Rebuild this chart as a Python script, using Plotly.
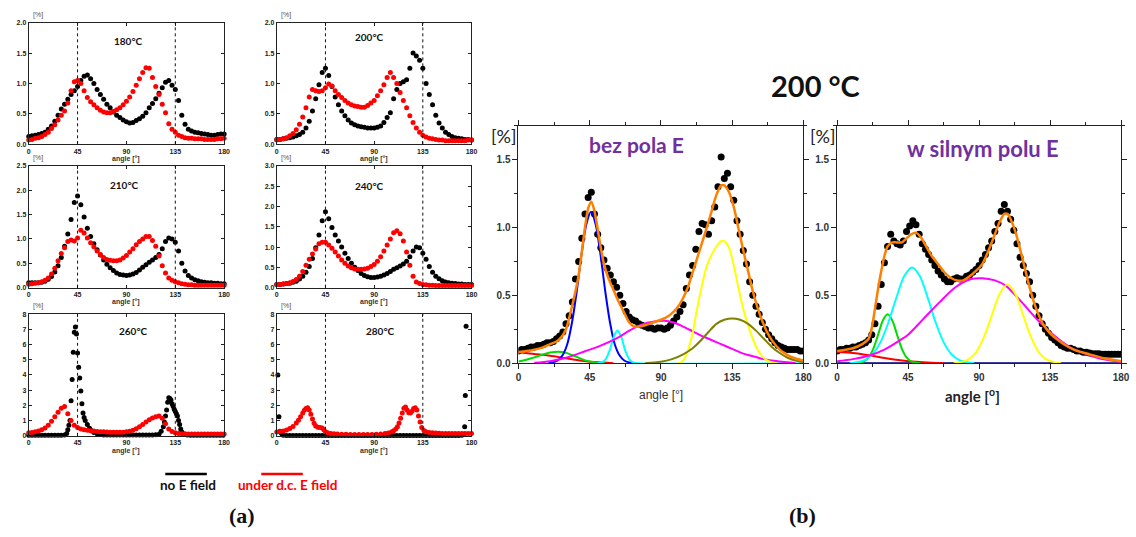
import plotly.graph_objects as go

W, H = 1136, 537

# ---------------------------------------------------------------
# (a) angular distributions, no field (black) vs d.c. field (red)
# ---------------------------------------------------------------
ANG3 = list(range(0, 181, 3))

T180_NO = [0.13, 0.14, 0.15, 0.16, 0.18, 0.20, 0.25, 0.30, 0.38, 0.48,
           0.58, 0.66, 0.74, 0.82, 0.88, 0.95, 1.05, 1.12, 1.14, 1.08,
           1.00, 0.90, 0.82, 0.74, 0.66, 0.60, 0.53, 0.48, 0.44, 0.40,
           0.37, 0.35, 0.36, 0.39, 0.42, 0.46, 0.52, 0.60, 0.67, 0.75,
           0.84, 0.93, 1.02, 1.05, 0.97, 0.90, 0.72, 0.48, 0.33, 0.25,
           0.22, 0.20, 0.19, 0.18, 0.17, 0.16, 0.15, 0.15, 0.16, 0.17,
           0.17]
T180_E = [0.07, 0.08, 0.10, 0.11, 0.13, 0.16, 0.20, 0.26, 0.32, 0.40,
          0.48, 0.55, 0.68, 0.88, 1.03, 1.05, 1.00, 0.88, 0.77, 0.70,
          0.65, 0.60, 0.56, 0.53, 0.52, 0.52, 0.54, 0.57, 0.60, 0.65,
          0.71, 0.78, 0.87, 0.97, 1.08, 1.18, 1.26, 1.25, 1.10, 0.95,
          0.82, 0.66, 0.52, 0.34, 0.25, 0.20, 0.15, 0.13, 0.11, 0.10,
          0.10, 0.09, 0.09, 0.09, 0.08, 0.08, 0.08, 0.08, 0.09, 0.09,
          0.10]

T200_NO = [0.08, 0.08, 0.09, 0.10, 0.11, 0.12, 0.14, 0.16, 0.20, 0.27,
           0.38, 0.55, 0.75, 0.98, 1.18, 1.25, 1.13, 0.95, 0.78, 0.65,
           0.55, 0.47, 0.40, 0.35, 0.32, 0.30, 0.29, 0.28, 0.27, 0.27,
           0.27, 0.28, 0.30, 0.36, 0.44, 0.52, 0.75, 0.90, 1.00, 1.03,
           1.06, 1.25, 1.50, 1.45, 1.38, 1.25, 1.00, 0.82, 0.65, 0.48,
           0.35, 0.27, 0.20, 0.16, 0.13, 0.11, 0.10, 0.09, 0.08, 0.08,
           0.07]
T200_E = [0.07, 0.08, 0.09, 0.11, 0.14, 0.18, 0.24, 0.33, 0.45, 0.60,
          0.78, 0.90, 0.88, 0.87, 0.88, 0.93, 0.99, 0.96, 0.88, 0.82,
          0.77, 0.72, 0.68, 0.65, 0.63, 0.62, 0.61, 0.61, 0.64, 0.68,
          0.72, 0.80, 0.88, 0.98, 1.10, 1.18, 1.10, 1.00, 0.85, 0.72,
          0.60, 0.47, 0.36, 0.27, 0.20, 0.15, 0.12, 0.10, 0.09, 0.08,
          0.07, 0.07, 0.06, 0.06, 0.06, 0.06, 0.06, 0.06, 0.06, 0.07,
          0.07]

T210_NO = [0.10, 0.10, 0.10, 0.10, 0.11, 0.13, 0.17, 0.23, 0.32, 0.45,
           0.62, 0.85, 1.10, 1.40, 1.75, 1.88, 1.70, 1.45, 1.22, 1.05,
           0.90, 0.78, 0.67, 0.57, 0.48, 0.41, 0.35, 0.30, 0.27, 0.26,
           0.25, 0.26, 0.28, 0.31, 0.36, 0.42, 0.47, 0.52, 0.57, 0.62,
           0.68, 0.80, 0.95, 1.02, 1.00, 0.93, 0.75, 0.50, 0.34, 0.25,
           0.20, 0.16, 0.14, 0.12, 0.11, 0.10, 0.10, 0.09, 0.09, 0.08,
           0.08]
T210_E = [0.07, 0.08, 0.09, 0.10, 0.12, 0.15, 0.20, 0.28, 0.40, 0.55,
          0.70, 0.82, 0.95, 0.98, 0.96, 1.02, 1.18, 1.12, 1.02, 0.92,
          0.84, 0.75, 0.68, 0.62, 0.58, 0.56, 0.55, 0.55, 0.57, 0.61,
          0.66, 0.73, 0.80, 0.88, 0.95, 1.00, 1.05, 1.05, 0.97, 0.85,
          0.65, 0.45, 0.30, 0.20, 0.15, 0.12, 0.10, 0.08, 0.07, 0.06,
          0.06, 0.05, 0.05, 0.05, 0.05, 0.05, 0.05, 0.05, 0.05, 0.05,
          0.05]

T240_NO = [0.08, 0.08, 0.09, 0.10, 0.11, 0.13, 0.16, 0.21, 0.28, 0.38,
           0.52, 0.72, 0.98, 1.30, 1.65, 1.87, 1.70, 1.48, 1.30, 1.15,
           1.00, 0.85, 0.72, 0.60, 0.50, 0.42, 0.35, 0.30, 0.27, 0.25,
           0.25, 0.26, 0.28, 0.31, 0.35, 0.40, 0.45, 0.49, 0.53, 0.58,
           0.65, 0.76, 0.90, 1.00, 0.98, 0.85, 0.70, 0.52, 0.38, 0.28,
           0.22, 0.17, 0.14, 0.12, 0.11, 0.10, 0.09, 0.09, 0.08, 0.08,
           0.08]
T240_E = [0.08, 0.08, 0.09, 0.10, 0.12, 0.15, 0.20, 0.28, 0.40, 0.55,
          0.70, 0.83, 0.95, 1.08, 1.12, 1.12, 1.05, 0.97, 0.88, 0.78,
          0.68, 0.60, 0.53, 0.49, 0.46, 0.45, 0.45, 0.46, 0.48, 0.52,
          0.57, 0.65, 0.76, 0.90, 1.05, 1.20, 1.35, 1.40, 1.33, 1.15,
          0.88, 0.55, 0.28, 0.14, 0.10, 0.08, 0.07, 0.06, 0.06, 0.05,
          0.05, 0.05, 0.05, 0.05, 0.05, 0.05, 0.05, 0.05, 0.05, 0.05,
          0.05]

T260_NO = [(0, 0.03), (3, 0.03), (6, 0.03), (9, 0.03), (12, 0.03), (15, 0.03),
           (18, 0.03), (21, 0.03), (24, 0.03), (27, 0.03), (30, 0.04), (33, 0.06),
           (35, 0.15), (36, 0.40), (37, 0.70), (38, 1.00), (39, 2.30), (40, 3.70),
           (41, 5.50), (42, 6.80), (43, 7.15), (44, 6.70), (45, 5.45), (46, 4.50),
           (47, 3.80), (48, 2.95), (49, 2.10), (50, 1.50), (51, 1.20), (52, 1.00),
           (54, 0.75), (56, 0.50), (58, 0.33), (60, 0.22), (63, 0.13), (66, 0.08),
           (69, 0.06), (72, 0.05), (75, 0.05), (78, 0.05), (81, 0.05), (84, 0.05),
           (87, 0.05), (90, 0.05), (93, 0.05), (96, 0.05), (99, 0.05), (102, 0.05),
           (105, 0.05), (108, 0.05), (111, 0.05), (114, 0.06), (117, 0.07),
           (120, 0.10), (122, 0.30), (124, 0.60), (125, 0.90), (126, 1.30),
           (127, 1.70), (128, 2.20), (129, 2.50), (130, 2.45), (131, 2.35),
           (132, 2.10), (133, 1.95), (134, 1.75), (135, 1.60), (136, 1.45),
           (137, 1.30), (138, 1.00), (139, 0.75), (140, 0.45), (141, 0.25),
           (143, 0.10), (146, 0.05), (149, 0.04), (152, 0.04), (155, 0.04),
           (158, 0.04), (161, 0.04), (164, 0.04), (167, 0.04), (170, 0.04),
           (173, 0.04), (176, 0.04), (179, 0.04)]
T260_E = [0.20, 0.22, 0.26, 0.32, 0.40, 0.52, 0.70, 0.95, 1.25, 1.55,
          1.82, 1.92, 1.45, 1.00, 0.70, 0.55, 0.45, 0.40, 0.36, 0.33,
          0.31, 0.29, 0.27, 0.26, 0.25, 0.24, 0.23, 0.23, 0.23, 0.24,
          0.26, 0.30, 0.37, 0.47, 0.60, 0.75, 0.90, 1.05, 1.17, 1.26,
          1.30, 1.15, 0.80, 0.45, 0.28, 0.20, 0.16, 0.14, 0.13, 0.12,
          0.12, 0.12, 0.12, 0.12, 0.12, 0.12, 0.12, 0.12, 0.12, 0.12,
          0.12]

T280_NO_ANG = [1, 2, 3, 4, 5] + list(range(6, 172, 3)) + [173, 173.7, 174.3, 175]
T280_NO = [4.00, 1.25, 0.30, 0.20, 0.10,
           0.03, 0.02, 0.02, 0.02, 0.02, 0.02, 0.02, 0.02,
           0.02, 0.02, 0.02, 0.02, 0.02, 0.02, 0.02, 0.02,
           0.02, 0.02, 0.02, 0.02, 0.02, 0.02, 0.02, 0.02,
           0.02, 0.02, 0.02, 0.02, 0.02, 0.02, 0.02, 0.02,
           0.02, 0.02, 0.02, 0.02, 0.02, 0.02, 0.02, 0.02,
           0.02, 0.02, 0.02, 0.02, 0.02, 0.02, 0.02, 0.02,
           0.02, 0.02, 0.02, 0.02, 0.02, 0.02, 0.02, 0.03,
           0.10, 0.60, 2.65, 7.20]
T280_E = [(0, 0.25), (3, 0.28), (6, 0.32), (9, 0.38), (12, 0.48), (15, 0.62),
          (18, 0.85), (20, 1.02), (22, 1.25), (24, 1.50), (25.5, 1.68), (27, 1.80),
          (28.5, 1.84), (30, 1.70), (31.5, 1.42), (33, 1.10), (34.5, 0.82),
          (36, 0.65), (38, 0.57), (40, 0.55), (42, 0.52), (43.5, 0.40), (45, 0.27),
          (47, 0.20), (50, 0.16), (53, 0.14), (56, 0.12), (60, 0.11), (64, 0.10),
          (68, 0.09), (72, 0.08), (76, 0.08), (80, 0.08), (84, 0.08), (88, 0.09),
          (92, 0.10), (96, 0.12), (100, 0.15), (103, 0.19), (106, 0.25),
          (108, 0.33), (110, 0.45), (111.5, 0.60), (113, 0.85), (114.5, 1.15),
          (116, 1.50), (117.5, 1.82), (119, 1.90), (120.5, 1.70), (122, 1.52),
          (123.5, 1.50), (125, 1.62), (126.5, 1.80), (128, 1.84), (129.5, 1.70),
          (131, 1.30), (132.5, 0.90), (134, 0.55), (136, 0.35), (138, 0.27),
          (141, 0.22), (144, 0.20), (147, 0.18), (150, 0.17), (153, 0.16),
          (156, 0.15), (159, 0.15), (162, 0.15), (165, 0.15), (168, 0.15),
          (171, 0.15), (174, 0.15), (177, 0.15), (180, 0.16)]

# ---------------------------------------------------------------
# (b) 200 °C: measured points with Gaussian decomposition
# ---------------------------------------------------------------
ANG2 = list(range(0, 181, 2))

B_NO = [0.09, 0.10, 0.10, 0.11, 0.12, 0.12, 0.13, 0.13, 0.14, 0.15,
        0.15, 0.16, 0.18, 0.20, 0.23, 0.29, 0.35, 0.45, 0.62, 0.75,
        0.92, 1.10, 1.22, 1.26, 1.10, 0.95, 0.85, 0.76, 0.70, 0.65,
        0.60, 0.56, 0.50, 0.44, 0.38, 0.34, 0.32, 0.31, 0.29, 0.28,
        0.27, 0.26, 0.26, 0.25, 0.26, 0.26, 0.25, 0.26, 0.28, 0.31,
        0.34, 0.38, 0.43, 0.55, 0.65, 0.72, 0.84, 0.97, 1.03, 1.02,
        0.95, 1.05, 1.15, 1.30, 1.52, 1.36, 1.40, 1.30, 1.20, 1.05,
        0.95, 0.83, 0.73, 0.60, 0.50, 0.42, 0.36, 0.30, 0.25, 0.21,
        0.18, 0.15, 0.13, 0.12, 0.11, 0.10, 0.10, 0.10, 0.10, 0.09,
        0.09]
B_E = [0.09, 0.10, 0.10, 0.11, 0.11, 0.12, 0.12, 0.13, 0.14, 0.15,
       0.17, 0.21, 0.29, 0.42, 0.58, 0.74, 0.86, 0.95, 0.90, 0.88,
       0.87, 0.90, 0.97, 1.01, 1.05, 1.02, 0.95, 0.88, 0.84, 0.80,
       0.76, 0.72, 0.68, 0.65, 0.62, 0.60, 0.60, 0.62, 0.63, 0.62,
       0.62, 0.64, 0.65, 0.67, 0.69, 0.72, 0.76, 0.80, 0.85, 0.90,
       0.97, 1.03, 1.12, 1.17, 1.12, 1.06, 0.98, 0.88, 0.78, 0.72,
       0.66, 0.60, 0.50, 0.42, 0.35, 0.29, 0.25, 0.22, 0.19, 0.17,
       0.15, 0.13, 0.12, 0.11, 0.11, 0.10, 0.09, 0.09, 0.08, 0.08,
       0.075, 0.07, 0.07, 0.07, 0.065, 0.065, 0.065, 0.065, 0.065, 0.065,
       0.065]

# fitted components, no field
NO_RED = [(0, 0.08), (10, 0.068), (20, 0.055), (30, 0.036), (40, 0.018), (50, 0.006), (60, 0.0)]
NO_GREEN = [(0, 0.012), (5, 0.025), (10, 0.043), (15, 0.062), (20, 0.078), (25, 0.084),
            (30, 0.076), (35, 0.055), (40, 0.03), (45, 0.012), (50, 0.004), (55, 0.0)]
NO_BLUE = [(18.8, 0.0), (21.8, 0.006), (24.8, 0.02), (27.8, 0.058), (30.8, 0.14), (33.8, 0.30),
           (36.8, 0.53), (39.8, 0.80), (42.8, 1.02), (45.8, 1.115), (48.8, 1.02),
           (51.8, 0.80), (54.8, 0.53), (57.8, 0.30), (60.8, 0.14), (63.8, 0.058),
           (66.8, 0.02), (69.8, 0.006), (72.8, 0.0)]
NO_CYAN = [(50, 0.0), (52.5, 0.005), (55, 0.028), (57.5, 0.09), (60, 0.19), (62.5, 0.24),
           (65, 0.19), (67.5, 0.09), (70, 0.028), (72.5, 0.005), (75, 0.0), (180, 0.0)]
NO_MAGENTA = [(10, 0.003), (20, 0.015), (30, 0.04), (42, 0.088), (50, 0.12), (62.5, 0.186),
              (70, 0.24), (79, 0.29), (85, 0.305), (92, 0.313), (98, 0.30), (104, 0.27),
              (110, 0.235), (116, 0.20), (120, 0.18), (125, 0.155), (130, 0.13),
              (135, 0.105), (140, 0.08), (145, 0.06), (150, 0.045), (155, 0.03),
              (160, 0.02), (165, 0.012), (170, 0.006), (175, 0.002)]
NO_YELLOW = [(100, 0.0), (102, 0.004), (104, 0.02), (106, 0.06), (108, 0.13), (110, 0.22),
             (112, 0.35), (114, 0.47), (116, 0.58), (118, 0.68), (120, 0.75), (122, 0.80),
             (125, 0.86), (128, 0.90), (130, 0.90), (133, 0.85), (136, 0.72), (139, 0.55),
             (142, 0.40), (145, 0.28), (148, 0.18), (151, 0.10), (154, 0.05), (157, 0.02),
             (160, 0.005), (163, 0.0)]
NO_OLIVE = [(80, 0.0), (90, 0.01), (97, 0.03), (104, 0.065), (110, 0.11), (115, 0.165),
            (120, 0.23), (125, 0.29), (130, 0.32), (135, 0.33), (140, 0.32), (145, 0.29),
            (150, 0.24), (155, 0.18), (160, 0.12), (165, 0.075), (170, 0.04), (175, 0.02),
            (180, 0.008)]
NO_SUM = [(0, 0.083), (5, 0.09), (10, 0.10), (15, 0.115), (20, 0.14), (24, 0.16), (27, 0.19),
          (30, 0.25), (33, 0.38), (36, 0.53), (38, 0.65), (40, 0.82), (42, 1.0), (44, 1.14),
          (46, 1.19), (48, 1.12), (50, 0.99), (52, 0.85), (54, 0.73), (57, 0.62), (60, 0.54),
          (63, 0.46), (66, 0.39), (70, 0.30), (73, 0.27), (76, 0.27), (80, 0.28), (85, 0.30),
          (90, 0.32), (95, 0.35), (98, 0.38), (101, 0.42), (104, 0.48), (107, 0.56),
          (110, 0.67), (113, 0.78), (116, 0.89), (119, 1.0), (122, 1.12), (125, 1.24),
          (128, 1.31), (130, 1.31), (133, 1.26), (136, 1.15), (139, 0.99), (142, 0.83),
          (145, 0.68), (148, 0.53), (151, 0.41), (154, 0.31), (157, 0.23), (160, 0.17),
          (165, 0.10), (170, 0.06), (175, 0.035), (180, 0.02)]

# fitted components, strong field
E_RED = [(0, 0.085), (10, 0.075), (20, 0.058), (30, 0.038), (40, 0.022), (50, 0.01),
         (60, 0.003), (68, 0.0)]
E_NAVY = [(0, 0.0), (180, 0.0)]
E_GREEN = [(11, 0.0), (14, 0.003), (17, 0.013), (20, 0.043), (23, 0.108), (26, 0.21),
           (29, 0.315), (32, 0.36), (35, 0.315), (38, 0.21), (41, 0.108), (44, 0.043),
           (47, 0.013), (50, 0.003), (53, 0.0)]
E_CYAN = [(8, 0.0), (12.5, 0.0065), (17.5, 0.023), (22.5, 0.066), (27.5, 0.155), (32.5, 0.30),
          (37.5, 0.48), (42.5, 0.64), (47.5, 0.705), (52.5, 0.64), (57.5, 0.48),
          (62.5, 0.30), (67.5, 0.155), (72.5, 0.066), (77.5, 0.023), (82.5, 0.0065),
          (87, 0.0)]
E_MAGENTA = [(0, 0.015), (10, 0.03), (20, 0.055), (30, 0.10), (40, 0.17), (45, 0.21),
             (55, 0.33), (65, 0.45), (75, 0.56), (85, 0.62), (92, 0.626), (100, 0.61),
             (107, 0.57), (117, 0.45), (127, 0.32), (138, 0.20), (148, 0.115),
             (158, 0.067), (168, 0.03), (180, 0.01)]
E_YELLOW = [(74, 0.0), (78, 0.006), (83, 0.026), (88, 0.078), (93, 0.19), (98, 0.35),
            (103, 0.51), (108, 0.58), (113, 0.51), (118, 0.35), (123, 0.19), (128, 0.078),
            (133, 0.026), (138, 0.006), (142, 0.0)]
E_SUM = [(0, 0.09), (10, 0.11), (16, 0.14), (20, 0.18), (22, 0.26), (24, 0.40), (26, 0.55),
         (28, 0.68), (30, 0.79), (32, 0.86), (35, 0.89), (38, 0.89), (41, 0.89), (44, 0.92),
         (47, 0.95), (50, 0.96), (53, 0.93), (56, 0.87), (60, 0.79), (64, 0.73), (68, 0.67),
         (72, 0.63), (76, 0.61), (80, 0.61), (84, 0.64), (88, 0.68), (92, 0.73), (96, 0.83),
         (100, 0.95), (103, 1.04), (106, 1.10), (108, 1.10), (110, 1.06), (113, 0.97),
         (116, 0.84), (119, 0.70), (122, 0.56), (125, 0.44), (128, 0.35), (131, 0.28),
         (135, 0.22), (140, 0.17), (145, 0.13), (150, 0.10), (160, 0.065), (170, 0.035),
         (180, 0.015)]

# ---------------------------------------------------------------
fig = go.Figure()
layout = dict(width=W, height=H, autosize=False, showlegend=False,
              margin=dict(l=0, r=0, t=0, b=0),
              paper_bgcolor="white", plot_bgcolor="white")
shapes = []
annotations = []

LINE = "#222222"


def px(x, y):
    return x / W, 1 - y / H


def names(i):
    s = "" if i == 1 else str(i)
    return "x" + s, "y" + s, "xaxis" + s, "yaxis" + s


def text(t, x, y, size, color="#111", family="Lato", bold=False):
    ax, ay = px(x, y)
    annotations.append(dict(text=("<b>%s</b>" % t) if bold else t, x=ax, y=ay,
                            xref="paper", yref="paper", showarrow=False,
                            xanchor="center", yanchor="middle",
                            font=dict(family=family, size=size, color=color)))


def unzip(pairs):
    return [p[0] for p in pairs], [p[1] for p in pairs]


# ---- small panels of (a) ----
SMALL = [
    ("180°C", (ANG3, T180_NO), (ANG3, T180_E), 2.0, 0.5, ".1f", (26, 223.5, 19, 143), (127, 38)),
    ("200°C", (ANG3, T200_NO), (ANG3, T200_E), 2.0, 0.5, ".1f", (276.7, 473.5, 19, 143), (370, 34)),
    ("210°C", (ANG3, T210_NO), (ANG3, T210_E), 2.5, 0.5, ".1f", (26, 223.5, 165, 289), (123, 184)),
    ("240°C", (ANG3, T240_NO), (ANG3, T240_E), 3.0, 0.5, ".1f", (276.7, 473.5, 165, 289), (370, 185)),
    ("260°C", unzip(T260_NO), (ANG3, T260_E), 8.0, 1, "d", (26, 223.5, 316, 440), (132, 333)),
    ("280°C", (T280_NO_ANG, T280_NO), unzip(T280_E), 8.0, 1, "d", (276.7, 473.5, 316, 440), (382, 333)),
]

small_font = dict(family="Liberation Sans", size=7, color="#222", weight="bold")

for k, (title, black, red, ymax, dt, fmt, box, tpos) in enumerate(SMALL):
    i = k + 1
    xr, yr, xa, ya = names(i)
    x0, x1, y0, y1 = box
    layout[xa] = dict(domain=[x0 / W, x1 / W], anchor=yr, range=[0, 180],
                      tickvals=[0, 45, 90, 135, 180], ticks="inside", ticklen=3,
                      tickcolor=LINE, showline=True, linecolor=LINE, linewidth=1,
                      mirror="allticks", showgrid=False, zeroline=False,
                      tickfont=small_font)
    layout[ya] = dict(domain=[1 - y1 / H, 1 - y0 / H], anchor=xr, range=[0, ymax],
                      dtick=dt, tick0=0, tickformat=fmt, ticks="inside", ticklen=3,
                      tickcolor=LINE, showline=True, linecolor=LINE, linewidth=1,
                      mirror="allticks", showgrid=False, zeroline=False,
                      tickfont=small_font)
    fig.add_trace(go.Scatter(x=black[0], y=black[1], mode="markers", xaxis=xr, yaxis=yr,
                             marker=dict(size=5, color="black"), cliponaxis=False))
    fig.add_trace(go.Scatter(x=red[0], y=red[1], mode="markers", xaxis=xr, yaxis=yr,
                             marker=dict(size=5, color="#FF0000"), cliponaxis=False))
    for v in (45, 135):
        shapes.append(dict(type="line", xref=xr, yref=yr + " domain", x0=v, x1=v, y0=0, y1=1,
                           line=dict(color="#111", width=1, dash="dot")))
    text(title, tpos[0], tpos[1], 10, bold=True)
    text("[%]", x0 + 9, y0 - 8, 7, color="#555", family="Liberation Sans")
    text("angle [°]", (x0 + x1) / 2, y1 + 15, 7, color="#333", family="Liberation Sans", bold=True)

# legend of (a)
for (xa0, xa1, col) in ((164, 206, "black"), (261, 303, "#FF0000")):
    a0, b0 = px(xa0, 479)
    a1, _ = px(xa1, 479)
    shapes.append(dict(type="line", xref="paper", yref="paper", x0=a0, x1=a1, y0=b0, y1=b0,
                       line=dict(color=col, width=2.5)))
text("no E field", 187, 490, 13.5, color="#111", bold=True)
text("under d.c. E field", 288, 490, 13.5, color="#FF0000", bold=True)
text("(a)", 242, 521, 22, family="Liberation Serif", bold=True)
text("(b)", 808, 521, 22, family="Liberation Serif", bold=True)

# ---- large panels of (b) ----
big_font = dict(family="Liberation Sans", size=10, color="#333", weight="bold")

BIG = [
    (B_NO, [(NO_RED, "#FF0000"), (NO_GREEN, "#00DD00"), (NO_BLUE, "#0000FF"),
            (NO_CYAN, "#00FFFF"), (NO_MAGENTA, "#FF00FF"), (NO_YELLOW, "#FFFF00"),
            (NO_OLIVE, "#808000")], NO_SUM, (521, 809, 124, 366)),
    (B_E, [(E_NAVY, "#000080"), (E_RED, "#FF0000"), (E_GREEN, "#00DD00"),
           (E_CYAN, "#00FFFF"), (E_MAGENTA, "#FF00FF"), (E_YELLOW, "#FFFF00")],
     E_SUM, (843, 1130, 124, 366)),
]

for k, (pts, comps, total, box) in enumerate(BIG):
    i = 7 + k
    xr, yr, xa, ya = names(i)
    x0, x1, y0, y1 = box
    layout[xa] = dict(domain=[x0 / W, x1 / W], anchor=yr, range=[0, 180],
                      tickvals=[0, 45, 90, 135, 180], ticks="outside", ticklen=5,
                      tickcolor=LINE, showline=True, linecolor=LINE, linewidth=1,
                      mirror="allticks", showgrid=False, zeroline=False,
                      minor=dict(dtick=22.5, tick0=0, ticks="outside", ticklen=3,
                                 tickcolor=LINE),
                      tickfont=big_font)
    layout[ya] = dict(domain=[1 - y1 / H, 1 - y0 / H], anchor=xr, range=[0, 1.75],
                      tickvals=[0, 0.5, 1.0, 1.5], tickformat=".1f", ticks="outside",
                      ticklen=5, tickcolor=LINE, showline=True, linecolor=LINE,
                      linewidth=1, mirror="allticks", showgrid=False, zeroline=False,
                      minor=dict(dtick=0.25, tick0=0, ticks="outside", ticklen=3,
                                 tickcolor=LINE),
                      tickfont=big_font)
    fig.add_trace(go.Scatter(x=ANG2, y=pts, mode="markers", xaxis=xr, yaxis=yr,
                             marker=dict(size=7, color="black")))
    for curve, col in comps:
        cx, cy = unzip(curve)
        fig.add_trace(go.Scatter(x=cx, y=cy, mode="lines", xaxis=xr, yaxis=yr,
                                 line=dict(color=col, width=2, shape="spline", smoothing=0.8)))
    tx, ty = unzip(total)
    fig.add_trace(go.Scatter(x=tx, y=ty, mode="lines", xaxis=xr, yaxis=yr,
                             line=dict(color="#FF8000", width=2.5, shape="spline", smoothing=0.8)))
    text("[%]", x0 - 15, 135, 18, color="#222")

text("200 °C", 821, 83, 29, color="#111", bold=True)
text("bez pola E", 640, 143, 21, color="#7030A0", bold=True)
text("w silnym polu E", 990, 147, 22, color="#7030A0", bold=True)
text("angle [°]", 665, 398, 12, color="#333", family="Liberation Sans")
text("angle [<sup>o</sup>]", 980, 399, 15, color="#222", bold=True)

layout["shapes"] = shapes
layout["annotations"] = annotations
fig.update_layout(**layout)
fig.write_html("out.html")
